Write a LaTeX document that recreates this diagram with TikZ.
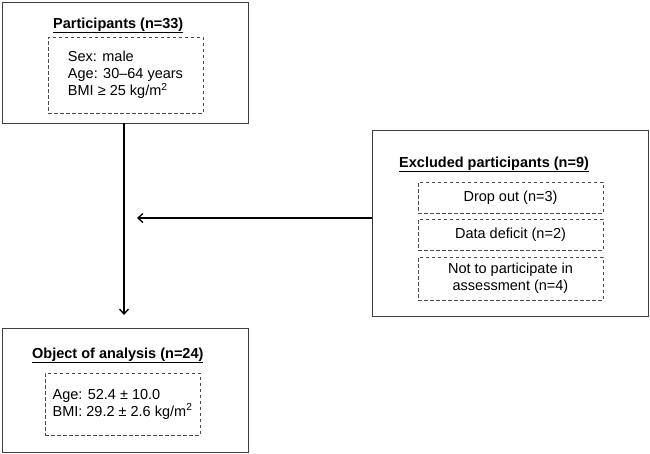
\documentclass[tikz,border=0pt]{standalone}
\usepackage{fontspec}
\setmainfont{Liberation Sans}
\usetikzlibrary{arrows.meta}
\tikzset{
  outer/.style={draw=black!75, line width=0.9pt, minimum width=#1, inner sep=0pt},
  dbox/.style={draw=black!70, dashed, dash pattern=on 3.5pt off 2.5pt, line width=0.8pt, inner sep=0pt, align=center},
  txt/.style={font=\fontsize{14.5}{17}\selectfont},
  ttl/.style={font=\fontsize{14.5}{17}\selectfont\bfseries, anchor=base west, inner sep=0pt},
  arr/.style={draw=black, line width=1.5pt, -{Straight Barb[length=5pt,width=9pt,line width=1.3pt]}}
}
\begin{document}
\begin{tikzpicture}[x=1pt,y=-1pt]
\useasboundingbox[fill=white] (0,0) rectangle (650,453);
% outer boxes
\node[outer=246pt, minimum height=121pt] (top) at (125,62.5) {};
\node[outer=276pt, minimum height=186pt] (excl) at (510,223) {};
\node[outer=246pt, minimum height=124pt] (bot) at (125,390) {};
% titles
\node[ttl] (t1) at (53,28) {\underline{Participants (n=33)}};
\node[ttl] (t2) at (399,167) {\underline{Excluded participants (n=9)}};
\node[ttl] (t3) at (32,358) {\underline{Object of analysis (n=24)}};
% dashed boxes
\node[dbox, txt, minimum width=155pt, minimum height=76pt, align=left] (d1) at (125.5,75)
  {Sex: male\\Age: 30–64 years\\BMI ≥ 25 kg/m\textsuperscript{2}};
\node[dbox, txt, minimum width=185pt, minimum height=31pt] (e1) at (510.5,197.5) {Drop out (n=3)};
\node[dbox, txt, minimum width=185pt, minimum height=31pt] (e2) at (510.5,234.5) {Data deficit (n=2)};
\node[dbox, txt, minimum width=185pt, minimum height=43pt] (e3) at (510.5,278.5) {Not to participate in\\assessment (n=4)};
\node[dbox, txt, minimum width=155pt, minimum height=62pt, align=left] (d3) at (122.5,404)
  {Age: 52.4 ± 10.0\\BMI: 29.2 ± 2.6 kg/m\textsuperscript{2}};
% connectors
\coordinate (tip) at (137,218);
\coordinate (vend) at (124,315);
\draw[arr] ([xshift=-1pt]top.south) -- (vend);
\draw[arr] ([yshift=5pt]excl.west) -- (tip);
\end{tikzpicture}
\end{document}
